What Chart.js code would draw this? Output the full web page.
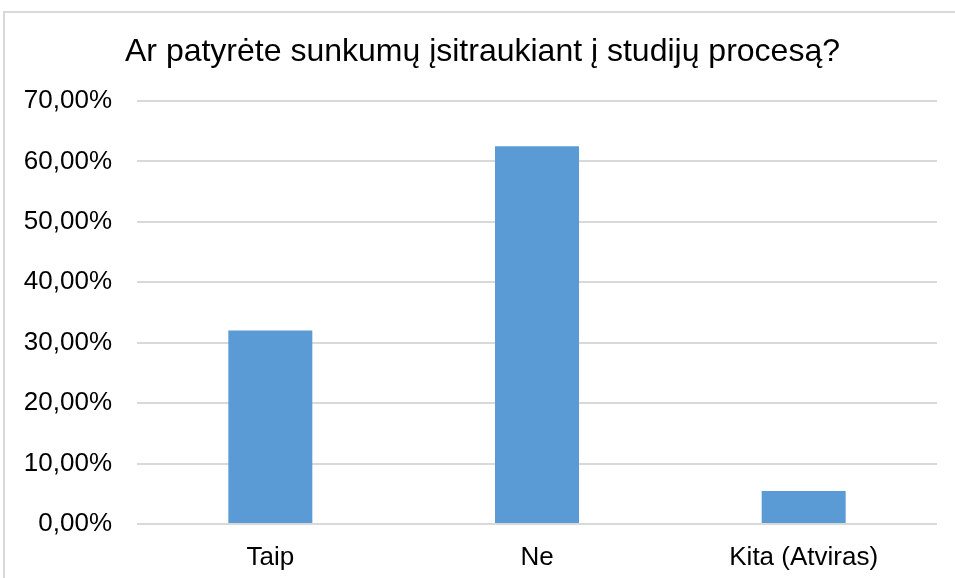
<!DOCTYPE html>
<html>
<head>
<meta charset="utf-8">
<script src="https://cdn.jsdelivr.net/npm/chart.js@4"></script>
<style>
  html, body { margin: 0; padding: 0; background: #fff; overflow: hidden; }
  #wrap { position: relative; width: 955px; height: 578px; }
  #frame { position: absolute; left: 3px; top: 11px; width: 1000px; height: 1000px; border: 2px solid #d9d9d9; box-sizing: border-box; }
  canvas { position: absolute; left: 0; top: 0; }
</style>
</head>
<body>
<div id="wrap">
  <div id="frame"></div>
  <canvas id="myChart" width="955" height="578"></canvas>
</div>
<script>
const labels = ['Taip', 'Ne', 'Kita (Atviras)'];
const values = [32.03, 62.5, 5.47];
const yTicks = [0, 10, 20, 30, 40, 50, 60, 70];

const data = {
  labels: labels,
  datasets: [{
    data: values,
    backgroundColor: '#5b9bd5',
    barPercentage: 0.63,
    categoryPercentage: 0.5
  }]
};

// nudge the title centre to the right like the original (frame is centred, not the canvas)
const titleShift = {
  id: 'titleShift',
  afterLayout(chart) {
    const t = chart.titleBlock;
    if (t) { t.left = 28; t.width = t.right - t.left; }
  }
};

const config = {
  type: 'bar',
  data: data,
  plugins: [titleShift],
  options: {
    responsive: false,
    animation: false,
    layout: { padding: { left: 0, right: 18, top: 0, bottom: 0 } },
    plugins: {
      legend: { display: false },
      tooltip: { enabled: false },
      title: {
        display: true,
        text: 'Ar patyrėte sunkumų įsitraukiant į studijų procesą?',
        color: '#000',
        font: { family: 'Liberation Sans', size: 32, weight: 'normal' },
        padding: { top: 33, bottom: 29.6 }
      }
    },
    scales: {
      x: {
        grid: { display: false },
        border: { display: false },
        ticks: {
          color: '#000',
          font: { family: 'Liberation Sans', size: 26 },
          padding: 10
        },
        afterFit: (scale) => { scale.height = 54; }
      },
      y: {
        min: 0,
        max: 70,
        afterBuildTicks: (scale) => { scale.ticks = yTicks.map(v => ({ value: v })); },
        grid: { color: '#d9d9d9', lineWidth: 2, drawTicks: false },
        border: { display: false },
        ticks: {
          color: '#000',
          font: { family: 'Liberation Sans', size: 26 },
          padding: 25,
          callback: (v) => v.toFixed(2).replace('.', ',') + '%'
        },
        afterFit: (scale) => { scale.width = 137; }
      }
    }
  }
};

const myChart = new Chart(document.getElementById('myChart'), config);
</script>
</body>
</html>
